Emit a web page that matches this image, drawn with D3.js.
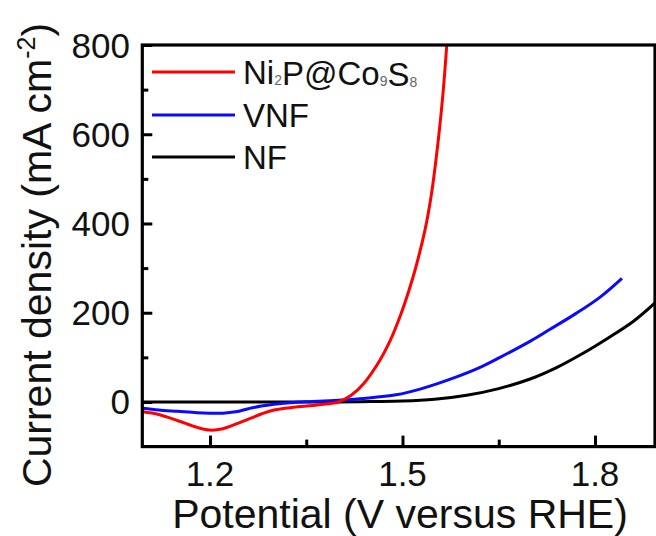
<!DOCTYPE html>
<html>
<head>
<meta charset="utf-8">
<script src="https://cdn.jsdelivr.net/npm/d3@7"></script>
<style>
  html, body { margin: 0; padding: 0; background: #fff; }
  svg { display: block; }
  text { font-family: Arial, "Liberation Sans", sans-serif; fill: #111; }
</style>
</head>
<body>
<svg id="chart" width="656" height="536"></svg>
<script>
// ---- data ----
const ni2pV = [1.095, 1.12, 1.15, 1.18, 1.20, 1.22, 1.25, 1.28, 1.30, 1.33, 1.36, 1.39, 1.40, 1.42, 1.44, 1.465, 1.48, 1.497, 1.51, 1.52, 1.535, 1.545, 1.556, 1.563, 1.569];
const ni2pJ = [-22, -28, -42, -57, -63, -60, -44, -27, -18, -12, -8, -3, 0, 15, 42, 94, 135, 195, 250, 298, 385, 465, 590, 690, 800];

const vnfV = [1.095, 1.12, 1.15, 1.18, 1.20, 1.22, 1.24, 1.26, 1.28, 1.30, 1.33, 1.36, 1.40, 1.44, 1.49, 1.53, 1.58, 1.62, 1.652, 1.70, 1.73, 1.77, 1.808, 1.842];
const vnfJ = [-14, -18, -21, -24, -25, -25, -22, -15, -9, -5, -1, 1, 4, 8, 16, 30, 54, 77, 100, 137, 163, 198, 235, 277];

const nfV = [1.095, 1.20, 1.30, 1.40, 1.45, 1.50, 1.55, 1.60, 1.65, 1.70, 1.74, 1.78, 1.82, 1.86, 1.8935];
const nfJ = [0, 0, 0, 0, 1, 2, 6, 15, 30, 52, 77, 108, 143, 181, 222];

const xTicks = [1.2, 1.5, 1.8];
const xMinor = [1.35, 1.65];
const yTicks = [0, 200, 400, 600, 800];
const yMinor = [100, 300, 500, 700];

const seriesNames = ["Ni2P@Co9S8", "VNF", "NF"];
const seriesColors = ["#ff0000", "#0a0aff", "#000000"];

// ---- layout ----
const svg = d3.select("#chart");
const x = d3.scaleLinear().domain([1.0945, 1.8935]).range([142.3, 655]);
const y = d3.scaleLinear().domain([-100, 800]).range([446.6, 45]);

const series = [
  { name: seriesNames[0], color: seriesColors[0], pts: ni2pV.map((v, i) => [v, ni2pJ[i]]) },
  { name: seriesNames[1], color: seriesColors[1], pts: vnfV.map((v, i) => [v, vnfJ[i]]) },
  { name: seriesNames[2], color: seriesColors[2], pts: nfV.map((v, i) => [v, nfJ[i]]) }
];

svg.append("defs").append("clipPath").attr("id", "clip")
  .append("rect")
  .attr("x", x.range()[0]).attr("y", y.range()[1])
  .attr("width", x.range()[1] - x.range()[0])
  .attr("height", y.range()[0] - y.range()[1]);

const line = d3.line()
  .x(d => x(d[0])).y(d => y(d[1]))
  .curve(d3.curveCatmullRom.alpha(0.5));

const plot = svg.append("g").attr("clip-path", "url(#clip)");
[2, 1, 0].forEach(i => {
  plot.append("path")
    .datum(series[i].pts)
    .attr("d", line)
    .attr("fill", "none")
    .attr("stroke", series[i].color)
    .attr("stroke-width", 3)
    .attr("stroke-linejoin", "round");
});

// ---- axes (ticks inside) ----
const yAxis = d3.axisRight(y).tickValues(yTicks).tickSize(10).tickFormat("");
const yAxisMinor = d3.axisRight(y).tickValues(yMinor).tickSize(6).tickFormat("");
const xAxis = d3.axisTop(x).tickValues(xTicks).tickSize(11).tickFormat("");
const xAxisMinor = d3.axisTop(x).tickValues(xMinor).tickSize(7).tickFormat("");

function styleAxis(g) {
  g.select(".domain").remove();
  g.selectAll(".tick line").attr("stroke", "#000").attr("stroke-width", 3);
}
svg.append("g").attr("transform", `translate(${x.range()[0]},0)`).call(yAxis).call(styleAxis);
svg.append("g").attr("transform", `translate(${x.range()[0]},0)`).call(yAxisMinor).call(styleAxis);
svg.append("g").attr("transform", `translate(0,${y.range()[0]})`).call(xAxis).call(styleAxis);
svg.append("g").attr("transform", `translate(0,${y.range()[0]})`).call(xAxisMinor).call(styleAxis);

// frame
svg.append("rect")
  .attr("x", x.range()[0]).attr("y", y.range()[1])
  .attr("width", x.range()[1] - x.range()[0])
  .attr("height", y.range()[0] - y.range()[1])
  .attr("fill", "none").attr("stroke", "#000").attr("stroke-width", 3.2);

// tick labels
svg.append("g").selectAll("text").data(yTicks).join("text")
  .attr("x", 130).attr("y", d => y(d) + 12.5)
  .attr("text-anchor", "end")
  .style("font-size", "35px")
  .text(d => d3.format("d")(d));

svg.append("g").selectAll("text").data(xTicks).join("text")
  .attr("x", d => x(d)).attr("y", 486)
  .attr("text-anchor", "middle")
  .style("font-size", "35px")
  .text(d => d3.format(".1f")(d));

// axis titles
svg.append("text")
  .attr("x", 400).attr("y", 528)
  .attr("text-anchor", "middle")
  .style("font-size", "41px")
  .text("Potential (V versus RHE)");

const yt = svg.append("text")
  .attr("transform", "translate(51,255) rotate(-90)")
  .attr("text-anchor", "middle")
  .style("font-size", "41px");
yt.append("tspan").text("Current density (mA cm");
yt.append("tspan").attr("dy", -16).style("font-size", "25px").text("-2");
yt.append("tspan").attr("dy", 16).text(")");

// legend
const legY = [72, 115, 157];
const legend = svg.append("g");
series.forEach((s, i) => {
  legend.append("line")
    .attr("x1", 152).attr("x2", 235)
    .attr("y1", legY[i]).attr("y2", legY[i])
    .attr("stroke", s.color).attr("stroke-width", 3);
});
function legendText(i, parts) {
  const t = legend.append("text").attr("x", 243).attr("y", legY[i] + 11.5).style("font-size", "33px");
  parts.forEach(p => {
    if (p.sub) {
      t.append("tspan").attr("dy", 1).style("font-size", "14px").style("fill", "#666").text(p.t);
      t.append("tspan").attr("dy", -1).text("");
    } else {
      t.append("tspan").text(p.t);
    }
  });
}
legendText(0, [{t: "Ni"}, {t: "2", sub: true}, {t: "P@Co"}, {t: "9", sub: true}, {t: "S"}, {t: "8", sub: true}]);
legendText(1, [{t: "VNF"}]);
legendText(2, [{t: "NF"}]);
</script>
</body>
</html>
